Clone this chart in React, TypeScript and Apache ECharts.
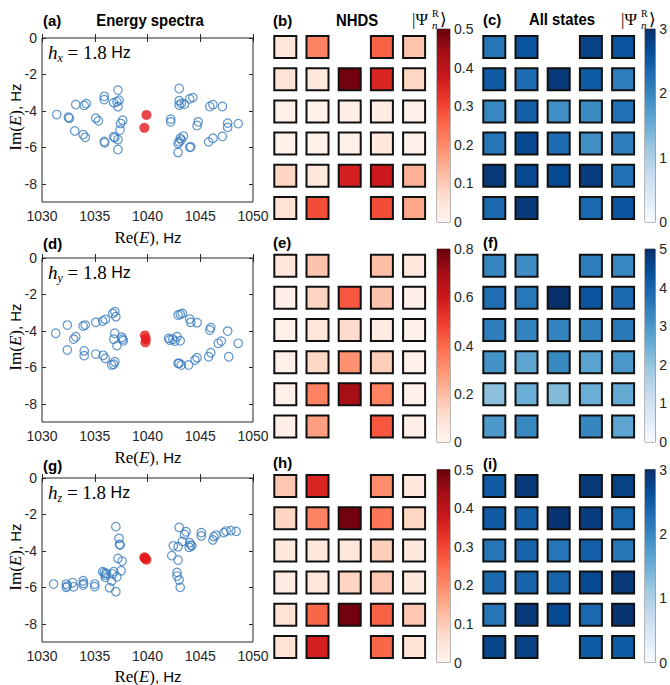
import React, { useEffect, useRef } from 'react';
import * as echarts from 'echarts';

// ---------- data ----------
const X_TICKS = [1030, 1035, 1040, 1045, 1050];
const Y_TICKS = [-8, -6, -4, -2, 0];

const SPEC_A_BLUE: number[][] = [
  [1031.4, -4.2], [1032.5, -4.35], [1032.6, -4.4], [1033.1, -5.1], [1033.2, -3.65],
  [1034.0, -3.7], [1034.2, -3.6], [1033.9, -5.3], [1034.1, -5.45], [1035.1, -4.4],
  [1035.35, -4.55], [1035.9, -3.2], [1035.9, -3.38], [1035.9, -5.68], [1035.95, -5.75],
  [1036.8, -3.55], [1037.1, -3.5], [1037.3, -3.41], [1037.2, -3.77], [1037.2, -2.86],
  [1037.65, -4.51], [1037.45, -4.69], [1037.4, -5.05], [1036.8, -5.42], [1036.9, -5.48],
  [1037.2, -5.57], [1037.2, -6.12],
  [1042.2, -4.45], [1042.2, -4.6], [1043.0, -2.77], [1043.0, -3.44], [1043.0, -3.68],
  [1043.2, -3.59], [1043.5, -3.63], [1044.0, -3.34], [1044.3, -3.27], [1044.8, -4.6],
  [1044.7, -4.8], [1043.4, -5.38], [1043.1, -5.51], [1043.0, -5.7], [1043.2, -5.6],
  [1042.9, -5.79], [1044.1, -5.97], [1044.0, -6.0], [1042.9, -6.28], [1045.9, -3.76],
  [1046.2, -3.66], [1047.1, -3.76], [1045.8, -5.7], [1046.2, -5.5], [1047.1, -5.4],
  [1047.6, -4.67], [1047.6, -4.9], [1048.6, -4.7],
];
const SPEC_A_RED: number[][] = [[1039.9, -4.22], [1039.7, -4.93]];

const SPEC_D_BLUE: number[][] = [
  [1031.3, -4.13], [1032.4, -3.68], [1032.4, -5.05], [1033.0, -4.45], [1033.2, -4.32],
  [1033.9, -3.73], [1034.1, -3.68], [1034.0, -5.1], [1034.0, -5.36], [1035.1, -3.53],
  [1035.1, -5.27], [1035.75, -3.46], [1036.0, -3.37], [1035.8, -5.34], [1036.0, -5.51],
  [1036.7, -3.04], [1036.9, -2.95], [1037.0, -3.22], [1036.9, -4.13], [1036.8, -4.46],
  [1037.1, -4.81], [1037.55, -4.35], [1037.65, -4.45], [1037.7, -4.54], [1036.9, -5.69],
  [1036.8, -5.83], [1036.6, -5.87],
  [1042.0, -4.41], [1042.1, -4.5], [1042.4, -4.46], [1042.6, -4.56], [1042.8, -4.32],
  [1043.1, -4.54], [1042.9, -3.13], [1043.1, -3.09], [1043.3, -3.04], [1044.0, -3.35],
  [1044.1, -3.53], [1044.7, -3.55], [1046.0, -3.82], [1045.9, -3.95], [1047.6, -4.01],
  [1048.6, -4.68], [1047.0, -4.56], [1046.7, -4.68], [1047.7, -5.42], [1046.0, -5.2],
  [1045.8, -5.42], [1044.7, -5.47], [1044.5, -5.6], [1043.9, -5.87], [1043.2, -5.87],
  [1043.0, -5.78], [1042.9, -5.78],
];
const SPEC_D_RED: number[][] = [[1039.75, -4.25], [1039.85, -4.45], [1039.8, -4.63]];

const SPEC_G_BLUE: number[][] = [
  [1031.1, -5.82], [1032.3, -5.82], [1032.3, -6.0], [1032.4, -5.93], [1032.9, -5.75],
  [1033.0, -5.97], [1033.9, -5.64], [1033.95, -5.78], [1033.9, -5.87], [1035.0, -5.82],
  [1035.0, -5.96], [1035.75, -5.14], [1035.9, -5.2], [1036.0, -5.32], [1036.1, -5.23],
  [1036.0, -5.45], [1036.7, -5.27], [1036.8, -5.14], [1036.4, -6.02], [1036.6, -5.65],
  [1037.0, -6.24], [1037.1, -5.42], [1037.5, -5.09], [1037.2, -4.41], [1037.6, -4.56],
  [1037.3, -3.31], [1037.35, -3.64], [1037.4, -3.68], [1037.0, -2.67],
  [1043.0, -2.71], [1043.65, -2.95], [1043.5, -3.1], [1043.3, -3.48], [1042.9, -3.77],
  [1042.45, -3.72], [1044.0, -3.55], [1044.1, -3.68], [1043.95, -3.8], [1044.2, -3.73],
  [1045.1, -3.0], [1045.1, -3.18], [1046.2, -3.4], [1046.3, -3.22], [1046.5, -3.13],
  [1047.25, -3.0], [1047.45, -2.91], [1047.9, -2.89], [1048.4, -2.93], [1042.3, -4.26],
  [1042.9, -4.5], [1042.8, -5.18], [1042.8, -5.38], [1043.0, -5.6], [1043.1, -6.0],
];
const SPEC_G_RED: number[][] = [[1039.7, -4.35], [1039.8, -4.42], [1039.9, -4.48], [1039.75, -4.4]];

// NHDS |Psi| grids (rows top -> bottom, null = no site)
const NHDS_B = [
  [0.045, 0.21, null, 0.26, 0.11],
  [0.05, 0.035, 0.49, 0.35, 0.08],
  [0.015, 0.015, 0.02, 0.025, 0.015],
  [0.01, 0.015, 0.015, 0.035, 0.015],
  [0.08, 0.035, 0.36, 0.375, 0.14],
  [0.055, 0.29, null, 0.29, 0.155],
];
const NHDS_E = [
  [0.07, 0.175, null, 0.19, 0.06],
  [0.03, 0.13, 0.44, 0.18, 0.03],
  [0.02, 0.07, 0.11, 0.05, 0.02],
  [0.02, 0.12, 0.3, 0.15, 0.02],
  [0.02, 0.34, 0.7, 0.34, 0.02],
  [0.03, 0.27, null, 0.44, 0.03],
];
const NHDS_H = [
  [0.105, 0.35, null, 0.195, 0.04],
  [0.08, 0.21, 0.49, 0.23, 0.08],
  [0.035, 0.04, 0.04, 0.09, 0.035],
  [0.03, 0.045, 0.08, 0.105, 0.035],
  [0.055, 0.255, 0.49, 0.26, 0.105],
  [0.055, 0.36, null, 0.255, 0.055],
];
const ALL_C = [
  [2.2, 2.6, null, 2.8, 2.6],
  [2.5, 2.3, 2.9, 2.5, 2.1],
  [2.0, 2.45, 1.9, 1.95, 2.25],
  [2.2, 2.7, 2.3, 1.9, 2.1],
  [2.9, 2.7, 2.7, 2.85, 2.25],
  [2.35, 2.9, null, 2.35, 2.6],
];
const ALL_F = [
  [3.35, 3.2, null, 3.5, 3.3],
  [3.8, 3.6, 5.0, 4.3, 3.9],
  [3.5, 3.4, 3.4, 3.45, 3.6],
  [3.1, 2.7, 3.3, 2.75, 3.0],
  [2.1, 2.5, 2.2, 2.5, 2.6],
  [2.95, 3.3, null, 3.35, 2.7],
];
const ALL_I = [
  [2.5, 2.9, null, 2.9, 2.8],
  [2.5, 2.45, 2.95, 2.85, 2.35],
  [2.2, 2.4, 2.2, 2.45, 2.2],
  [2.35, 2.4, 2.4, 2.7, 2.9],
  [2.2, 2.9, 2.7, 2.35, 2.95],
  [2.75, 2.8, null, 2.5, 2.5],
];

const CB_MAX_B = 0.5, CB_INT_B = 0.1;
const CB_MAX_E = 0.8, CB_INT_E = 0.2;
const CB_MAX_H = 0.5, CB_INT_H = 0.1;
const CB_MAX_C = 3, CB_INT_C = 1;
const CB_MAX_F = 5, CB_INT_F = 1;
const CB_MAX_I = 3, CB_INT_I = 1;

const REDS = ['#fff5f0', '#fee0d2', '#fcbba1', '#fc9272', '#fb6a4a', '#ef3b2c', '#cb181d', '#a50f15', '#67000d'];
const BLUES = ['#f7fbff', '#deebf7', '#c6dbef', '#9ecae1', '#6baed6', '#4292c6', '#2171b5', '#08519c', '#08306b'];

// ---------- styling ----------
const SANS = '"Liberation Sans", Arial, Helvetica, sans-serif';
const SERIF = '"Liberation Serif", "DejaVu Serif", "Times New Roman", serif';
const AX = '#262626';

function buildOption() {
  const grids: any[] = [];
  const xAxes: any[] = [];
  const yAxes: any[] = [];
  const series: any[] = [];
  const visualMaps: any[] = [];
  const graphic: any[] = [];

  // scatter panels
  const scTops = [38, 258, 478];
  const specs = [
    [SPEC_A_BLUE, SPEC_A_RED],
    [SPEC_D_BLUE, SPEC_D_RED],
    [SPEC_G_BLUE, SPEC_G_RED],
  ];
  scTops.forEach((top, i) => {
    const gi = grids.length;
    grids.push({ left: 42, top, width: 211, height: 164, show: true, borderColor: AX, borderWidth: 1, backgroundColor: 'transparent' });
    const tick = { inside: true, length: 4, lineStyle: { color: AX, width: 1 } };
    const xb = xAxes.length;
    xAxes.push({
      gridIndex: gi, type: 'value', min: 1030, max: 1050, interval: 5, position: 'bottom',
      axisLine: { show: false }, axisTick: { ...tick, customValues: X_TICKS },
      axisLabel: { color: AX, fontSize: 14, fontFamily: SANS, margin: 7, customValues: X_TICKS, formatter: (v: number) => String(v) },
      splitLine: { show: false },
    });
    xAxes.push({
      gridIndex: gi, type: 'value', min: 1030, max: 1050, interval: 5, position: 'top',
      axisLine: { show: false }, axisTick: { ...tick, customValues: X_TICKS }, axisLabel: { show: false },
      splitLine: { show: false },
    });
    const yl = yAxes.length;
    yAxes.push({
      gridIndex: gi, type: 'value', min: -9, max: 0, position: 'left',
      axisLine: { show: false }, axisTick: { ...tick, customValues: Y_TICKS },
      axisLabel: { color: AX, fontSize: 14, fontFamily: SANS, margin: 5, customValues: Y_TICKS, formatter: (v: number) => String(v) },
      splitLine: { show: false },
    });
    yAxes.push({
      gridIndex: gi, type: 'value', min: -9, max: 0, position: 'right',
      axisLine: { show: false }, axisTick: { ...tick, customValues: Y_TICKS }, axisLabel: { show: false },
      splitLine: { show: false },
    });
    series.push({
      type: 'scatter', xAxisIndex: xb, yAxisIndex: yl, data: specs[i][0], symbol: 'circle', symbolSize: 8.5,
      itemStyle: { color: 'rgba(0,0,0,0)', borderColor: '#3579bd', borderWidth: 1.2 }, silent: true,
    });
    series.push({
      type: 'scatter', xAxisIndex: xb, yAxisIndex: yl, data: specs[i][1], symbol: 'circle', symbolSize: 10,
      itemStyle: { color: '#e31a1c' }, silent: true,
    });
  });

  // heat panels
  const heatTops = [31, 249.6, 470];
  const heatCols = [
    { left: 269.2, mats: [NHDS_B, NHDS_E, NHDS_H], maxes: [CB_MAX_B, CB_MAX_E, CB_MAX_H], ints: [CB_INT_B, CB_INT_E, CB_INT_H], pal: REDS, cbLeft: 437, cbW: 13 },
    { left: 478.2, mats: [ALL_C, ALL_F, ALL_I], maxes: [CB_MAX_C, CB_MAX_F, CB_MAX_I], ints: [CB_INT_C, CB_INT_F, CB_INT_I], pal: BLUES, cbLeft: 645, cbW: 14 },
  ];
  const cbTops = [29, 249, 469.5];
  heatCols.forEach((col) => {
    heatTops.forEach((top, r) => {
      const gi = grids.length;
      grids.push({ left: col.left, top, width: 161, height: 193 });
      const xi = xAxes.length;
      xAxes.push({ gridIndex: gi, type: 'value', min: -0.5, max: 4.5, show: false, splitLine: { show: false } });
      const yi = yAxes.length;
      yAxes.push({ gridIndex: gi, type: 'value', min: -0.5, max: 5.5, inverse: true, show: false, splitLine: { show: false } });
      const data: number[][] = [];
      col.mats[r].forEach((row, ri) => row.forEach((v, ci) => { if (v !== null) data.push([ci, ri, v as number]); }));
      const si = series.length;
      series.push({
        type: 'scatter', xAxisIndex: xi, yAxisIndex: yi, data, symbol: 'rect', symbolSize: 22,
        itemStyle: { borderColor: '#111', borderWidth: 2, opacity: 1 }, silent: true,
      });
      visualMaps.push({ type: 'continuous', show: false, min: 0, max: col.maxes[r], dimension: 2, seriesIndex: si, inRange: { color: col.pal } });

      // colorbar
      const cg = grids.length;
      grids.push({ left: col.cbLeft, top: cbTops[r], width: col.cbW, height: 193, show: true, borderColor: '#6e6e6e', borderWidth: 1, backgroundColor: 'transparent' });
      const cx = xAxes.length;
      xAxes.push({ gridIndex: cg, type: 'category', data: ['c'], show: false });
      const cy = yAxes.length;
      yAxes.push({
        gridIndex: cg, type: 'value', min: 0, max: col.maxes[r], interval: col.ints[r], position: 'right',
        axisLine: { show: false }, axisTick: { inside: true, length: 3, lineStyle: { color: AX } },
        axisLabel: { color: AX, fontSize: 14, fontFamily: SANS, margin: 4 }, splitLine: { show: false },
      });
      series.push({
        type: 'bar', xAxisIndex: cx, yAxisIndex: cy, data: [col.maxes[r]], barWidth: '100%', silent: true,
        itemStyle: { color: new echarts.graphic.LinearGradient(0, 1, 0, 0, col.pal.map((c, k) => ({ offset: k / (col.pal.length - 1), color: c }))) },
      });
    });
  });

  // texts
  const bold = (text: string, x: number, y: number, align = 'left', size = 15, sx = 1) => ({
    type: 'text', x, y, scaleX: sx, silent: true,
    style: { text, fill: '#000', fontFamily: SANS, fontWeight: 'bold', fontSize: size, align, verticalAlign: 'middle' },
  });
  graphic.push(bold('(a)', 43, 20));
  graphic.push(bold('Energy spectra', 150, 20, 'center', 16, 0.93));
  graphic.push(bold('(b)', 273, 20));
  graphic.push(bold('NHDS', 357, 20, 'center', 16, 0.93));
  graphic.push(bold('(c)', 483, 19));
  graphic.push(bold('All states', 562, 19, 'center', 16, 0.93));
  graphic.push(bold('(d)', 43, 243));
  graphic.push(bold('(e)', 273, 242));
  graphic.push(bold('(f)', 483, 242));
  graphic.push(bold('(g)', 43, 465));
  graphic.push(bold('(h)', 273, 462));
  graphic.push(bold('(i)', 483, 463));

  const reRich = {
    a: { fontFamily: SERIF, fontSize: 17, fill: '#000' },
    e: { fontFamily: SERIF, fontSize: 17, fontStyle: 'italic', fill: '#000' },
    u: { fontFamily: SANS, fontSize: 15, fill: '#000' },
  };
  [237, 457, 676].forEach((yy) => {
    graphic.push({ type: 'text', x: 148, y: yy, silent: true, style: { text: '{a|Re(}{e|E}{a|)}{u|, Hz}', rich: reRich, align: 'center', verticalAlign: 'middle' } });
  });
  [117, 337, 557].forEach((cy) => {
    graphic.push({ type: 'text', x: 15, y: cy, rotation: Math.PI / 2, silent: true, style: { text: '{a|Im(}{e|E}{a|)}{u|, Hz}', rich: reRich, align: 'center', verticalAlign: 'middle' } });
  });
  const hRich = {
    i: { fontFamily: SERIF, fontSize: 19, fontStyle: 'italic', fill: '#000', lineHeight: 24, verticalAlign: 'middle' },
    s: { fontFamily: SERIF, fontSize: 12, fontStyle: 'italic', fill: '#000', lineHeight: 12, verticalAlign: 'bottom' },
    r: { fontFamily: SERIF, fontSize: 19, fill: '#000', lineHeight: 24, verticalAlign: 'middle' },
    u: { fontFamily: SANS, fontSize: 16, fill: '#000', lineHeight: 24, verticalAlign: 'middle' },
  };
  [['x', 38], ['y', 258], ['z', 478]].forEach(([sub, t]) => {
    graphic.push({ type: 'text', x: 48, y: (t as number) + 14, silent: true, style: { text: `{i|h}{s|${sub}}{r| = 1.8}{u| Hz}`, rich: hRich, align: 'left', verticalAlign: 'middle' } });
  });
  // colorbar titles |Psi_n^R>
  [412, 621].forEach((x0) => {
    graphic.push({ type: 'text', x: x0, y: 19, silent: true, style: { text: '|Ψ', fill: '#000', fontFamily: SERIF, fontSize: 17, align: 'left', verticalAlign: 'middle' } });
    graphic.push({ type: 'text', x: x0 + 20, y: 13, silent: true, style: { text: 'R', fill: '#000', fontFamily: SERIF, fontSize: 10, align: 'left', verticalAlign: 'middle' } });
    graphic.push({ type: 'text', x: x0 + 20, y: 25, silent: true, style: { text: 'n', fill: '#000', fontFamily: SERIF, fontStyle: 'italic', fontSize: 11, align: 'left', verticalAlign: 'middle' } });
    graphic.push({ type: 'text', x: x0 + 28, y: 19, silent: true, style: { text: '⟩', fill: '#000', fontFamily: SERIF, fontSize: 17, align: 'left', verticalAlign: 'middle' } });
  });

  return {
    animation: false,
    backgroundColor: '#fff',
    grid: grids,
    xAxis: xAxes,
    yAxis: yAxes,
    visualMap: visualMaps,
    series,
    graphic,
  };
}

export default function App() {
  const ref = useRef<HTMLDivElement>(null);
  useEffect(() => {
    const chart = echarts.init(ref.current!, null, { renderer: 'svg' });
    chart.setOption(buildOption() as any);
    return () => chart.dispose();
  }, []);
  return <div ref={ref} style={{ position: 'absolute', left: 0, top: 0, width: 670, height: 685, background: '#fff' }} />;
}
